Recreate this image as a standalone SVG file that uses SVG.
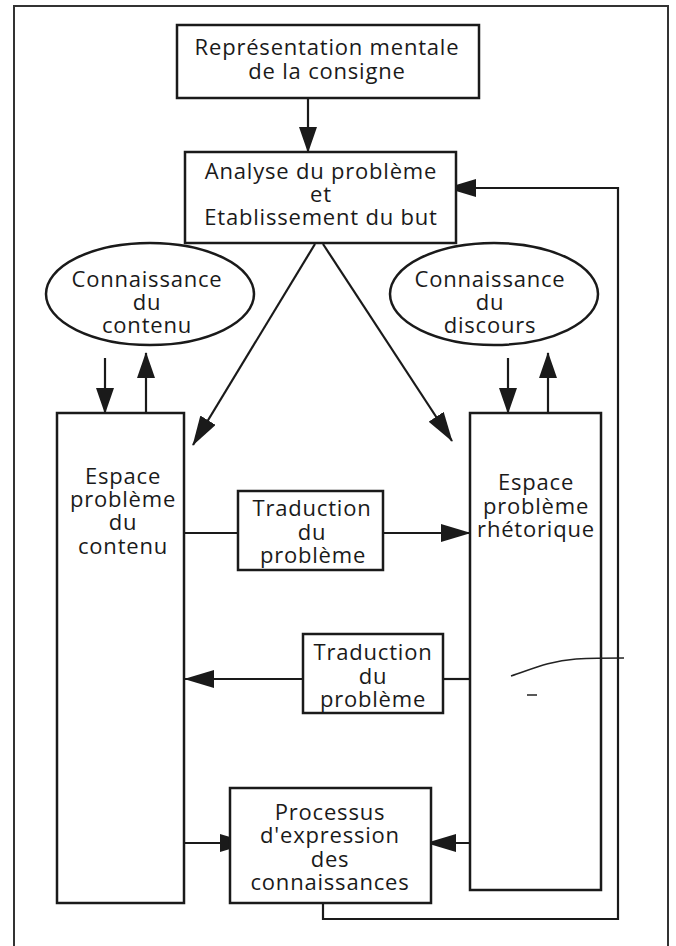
<svg xmlns="http://www.w3.org/2000/svg" width="676" height="946" viewBox="0 0 676 946">
<style>
.bg{fill:#fff}
.box{fill:#fff;stroke:#1a1a1a;stroke-width:2.5}
.frame{fill:none;stroke:#333;stroke-width:2}
.ln{fill:none;stroke:#1a1a1a;stroke-width:2.2}
.t{font-family:"Open Sans","DejaVu Sans",sans-serif;font-size:22px;letter-spacing:0.8px;fill:#1a1a1a;text-anchor:middle}
.mark{fill:none;stroke:#222;stroke-width:1.5}
</style>
<defs>
<marker id="ah" markerUnits="userSpaceOnUse" markerWidth="30" markerHeight="18" refX="29" refY="9" orient="auto" viewBox="0 0 30 18">
<path d="M0,0 L30,9 L0,18 z" fill="#1a1a1a"/>
</marker>
<marker id="ahs" markerUnits="userSpaceOnUse" markerWidth="26" markerHeight="18" refX="25" refY="9" orient="auto" viewBox="0 0 26 18">
<path d="M0,0 L26,9 L0,18 z" fill="#1a1a1a"/>
</marker>
</defs>
<rect class="bg" x="0" y="0" width="676" height="946"/>
<path class="frame" d="M14,946 V6 H668 V946"/>

<g id="connectors">
<path class="ln" d="M308,98 V152" marker-end="url(#ahs)"/>
<path class="ln" d="M315,244 L193,445" marker-end="url(#ah)"/>
<path class="ln" d="M323,244 L452,441" marker-end="url(#ah)"/>
<path class="ln" d="M105,358 V413" marker-end="url(#ahs)"/>
<path class="ln" d="M146,413 V353" marker-end="url(#ahs)"/>
<path class="ln" d="M508,358 V413" marker-end="url(#ahs)"/>
<path class="ln" d="M548,413 V353" marker-end="url(#ahs)"/>
<path class="ln" d="M184,533 H238"/>
<path class="ln" d="M383,533 H470" marker-end="url(#ah)"/>
<path class="ln" d="M470,679 H443"/>
<path class="ln" d="M303,679 H185" marker-end="url(#ah)"/>
<path class="ln" d="M184,843 H249" marker-end="url(#ah)"/>
<path class="ln" d="M479,843 H427" marker-end="url(#ah)"/>
<path class="ln" d="M323,903 V919 H618 V188 H447" marker-end="url(#ah)"/>
</g>

<g id="n-representation">
<rect class="box" x="177" y="25" width="302" height="73"/>
<text class="t" x="327" y="55">Représentation mentale</text>
<text class="t" x="327" y="79">de la consigne</text>
</g>

<g id="n-analyse">
<rect class="box" x="185" y="152" width="271" height="91"/>
<text class="t" x="321" y="179">Analyse du problème</text>
<text class="t" x="321" y="202">et</text>
<text class="t" x="321" y="225">Etablissement du but</text>
</g>

<g id="n-conn-contenu">
<ellipse class="box" cx="150" cy="294" rx="104" ry="51"/>
<text class="t" x="147" y="287">Connaissance</text>
<text class="t" x="147" y="310">du</text>
<text class="t" x="147" y="333">contenu</text>
</g>

<g id="n-conn-discours">
<ellipse class="box" cx="494" cy="294" rx="104" ry="51"/>
<text class="t" x="490" y="287">Connaissance</text>
<text class="t" x="490" y="310">du</text>
<text class="t" x="490" y="333">discours</text>
</g>

<g id="n-espace-contenu">
<rect class="box" x="57" y="413" width="127" height="490"/>
<text class="t" x="123" y="484">Espace</text>
<text class="t" x="123" y="507">problème</text>
<text class="t" x="123" y="530">du</text>
<text class="t" x="123" y="554">contenu</text>
</g>

<g id="n-espace-rhetorique">
<rect class="box" x="470" y="413" width="131" height="477"/>
<text class="t" x="536" y="490">Espace</text>
<text class="t" x="536" y="514">problème</text>
<text class="t" x="536" y="537">rhétorique</text>
</g>

<g id="n-traduction-1">
<rect class="box" x="238" y="491" width="145" height="79"/>
<text class="t" x="312" y="516">Traduction</text>
<text class="t" x="312" y="540">du</text>
<text class="t" x="313" y="563">problème</text>
</g>

<g id="n-traduction-2">
<rect class="box" x="303" y="634" width="140" height="79"/>
<text class="t" x="373" y="660">Traduction</text>
<text class="t" x="373" y="684">du</text>
<text class="t" x="373" y="707">problème</text>
</g>

<g id="n-processus">
<rect class="box" x="230" y="788" width="201" height="115"/>
<text class="t" x="330" y="820">Processus</text>
<text class="t" x="330" y="843">d'expression</text>
<text class="t" x="330" y="867">des</text>
<text class="t" x="330" y="890">connaissances</text>
</g>

<path class="mark" d="M511,676 C530,670 548,661 576,659"/>
<path class="mark" d="M576,659 C595,658 610,658 624,658" stroke="#ccc" stroke-width="1"/>
<path class="mark" d="M527,695 H537" stroke-width="1.2"/>
</svg>
